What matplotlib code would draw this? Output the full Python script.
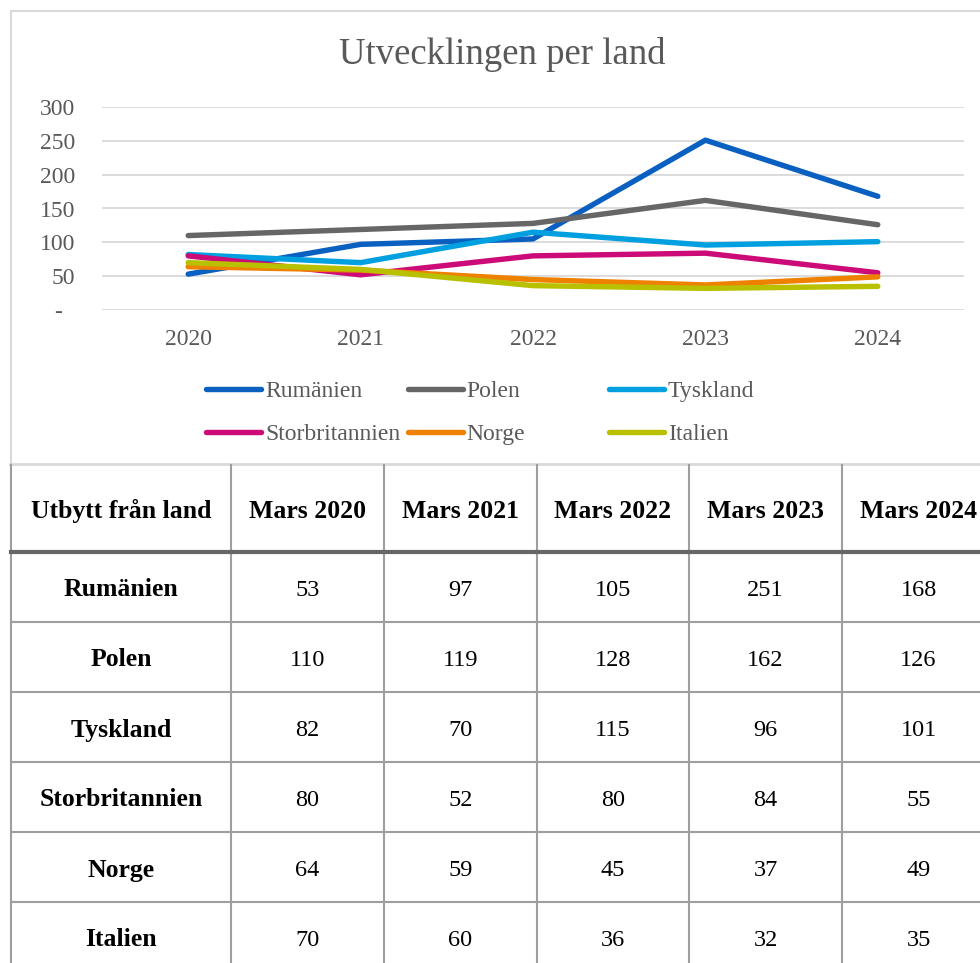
import matplotlib
matplotlib.use("Agg")
import matplotlib.pyplot as plt
from matplotlib.lines import Line2D

plt.rcParams['font.family'] = ['Liberation Serif', 'DejaVu Serif']

years = ["2020", "2021", "2022", "2023", "2024"]
countries = ["Rumänien", "Polen", "Tyskland", "Storbritannien", "Norge", "Italien"]
rumanien = [53, 97, 105, 251, 168]
polen = [110, 119, 128, 162, 126]
tyskland = [82, 70, 115, 96, 101]
storbritannien = [80, 52, 80, 84, 55]
norge = [64, 59, 45, 37, 49]
italien = [70, 60, 36, 32, 35]
series = [rumanien, polen, tyskland, storbritannien, norge, italien]
colors = ["#0a60c0", "#666666", "#00a0e0", "#cc0a78", "#ee8200", "#b8c000"]
yticks = [0, 50, 100, 150, 200, 250, 300]
ytick_labels = ["-  ", "50", "100", "150", "200", "250", "300"]
col_headers = ["Utbytt från land", "Mars 2020", "Mars 2021", "Mars 2022", "Mars 2023", "Mars 2024"]

W, H = 980, 963
fig = plt.figure(figsize=(W / 100, H / 100), dpi=100)
txt = "#595959"

# overlay in pixel coords for the frame, legend and table
ov = fig.add_axes([0, 0, 1, 1])
ov.set_xlim(0, W)
ov.set_ylim(H, 0)
ov.axis("off")

# chart frame
ov.plot([10.5, 10.5, 990], [465, 11, 11], color="#d9d9d9", lw=1.5, zorder=1)
ov.plot([10, 990], [464.5, 464.5], color="#d9d9d9", lw=2, zorder=1)

# line chart
x0, x1, y0, y1 = 102, 964, 107, 310
ax = fig.add_axes([x0 / W, 1 - y1 / H, (x1 - x0) / W, (y1 - y0) / H])
ax.set_facecolor("none")
xs = range(len(years))
for vals, c in zip(series, colors):
    ax.plot(xs, vals, color=c, lw=3.9, solid_capstyle="round", solid_joinstyle="round")
ax.set_xlim(-0.5, len(years) - 0.5)
ax.set_ylim(0, 300)
ax.set_yticks(yticks)
ax.set_yticklabels(ytick_labels)
ax.set_xticks(list(xs))
ax.set_xticklabels(years)
ax.tick_params(length=0, labelsize=17, colors=txt)
ax.tick_params(axis="y", pad=19.5)
ax.tick_params(axis="x", pad=14)
ax.grid(axis="y", color="#d9d9d9", lw=1.3)
ax.set_axisbelow(True)
for s in ax.spines.values():
    s.set_visible(False)

fig.text(502 / W, 1 - 55 / H, "Utvecklingen per land", ha="center", va="center",
         fontsize=26.5, color=txt)

# legend, 3 fixed-width columns
for i, (name, c) in enumerate(zip(countries, colors)):
    col, row = i % 3, i // 3
    lx = 206 + col * 201.5
    ly = 389 + row * 43
    ov.add_line(Line2D([lx, lx + 55], [ly, ly], color=c, lw=3.9, solid_capstyle="round"))
    ov.text(lx + 59, ly + 2.5, name, ha="left", va="center", fontsize=17, color=txt)

# table
col_x = [11, 231, 384, 537, 689, 842, 995]
row_y = [465, 552, 622, 692, 762, 832, 902, 972]
grid_c = "#9e9e9e"
for x in col_x:
    ov.plot([x, x], [465, H + 5], color=grid_c, lw=1.5, zorder=2)
for y in row_y[2:]:
    ov.plot([col_x[0], W + 5], [y, y], color=grid_c, lw=1.5, zorder=2)
ov.plot([col_x[0], W + 5], [row_y[1], row_y[1]], color="#666666", lw=3, zorder=3)

for j, h in enumerate(col_headers):
    cx = (col_x[j] + col_x[j + 1]) / 2
    ov.text(cx, (row_y[0] + row_y[1]) / 2 + 2.5, h, ha="center", va="center",
            fontsize=18.5, fontweight="bold", color="black")
for i, (name, vals) in enumerate(zip(countries, series)):
    cy = (row_y[i + 1] + row_y[i + 2]) / 2 + 3
    ov.text((col_x[0] + col_x[1]) / 2, cy, name, ha="center", va="center",
            fontsize=18.5, fontweight="bold", color="black")
    for j, v in enumerate(vals):
        cx = (col_x[j + 1] + col_x[j + 2]) / 2
        ov.text(cx, cy, str(v), ha="center", va="center", fontsize=17.5, color="black")

fig.savefig("out.png", dpi=100)
